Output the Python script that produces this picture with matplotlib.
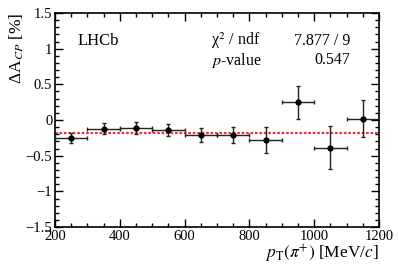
import numpy as np
import matplotlib
matplotlib.use("Agg")
import matplotlib.pyplot as plt
from matplotlib.ticker import MultipleLocator

plt.rcParams['font.family'] = ['Liberation Serif', 'DejaVu Serif']
plt.rcParams['mathtext.fontset'] = 'stix'

# data
pt_centres = [250, 350, 450, 550, 650, 750, 850, 950, 1050, 1150]
pt_halfwidth = [50, 50, 50, 50, 50, 50, 50, 50, 50, 50]
dacp = [-0.25, -0.12, -0.11, -0.14, -0.21, -0.21, -0.28, 0.25, -0.39, 0.02]
dacp_err = [0.07, 0.08, 0.08, 0.09, 0.10, 0.11, 0.18, 0.23, 0.30, 0.26]
fit_value = -0.18
chi2_text = "7.877 / 9"
pvalue_text = "0.547"

fig = plt.figure(figsize=(3.99, 2.70), dpi=100)
ax = fig.add_axes([0.138, 0.159, 0.812, 0.793])

ax.axhline(fit_value, color='#e8373c', lw=1.6, ls=(0, (1.2, 0.8)), zorder=1)
ax.errorbar(pt_centres, dacp, xerr=pt_halfwidth, yerr=dacp_err, fmt='o',
            color='black', ecolor='#222222', ms=3.5, elinewidth=1.0,
            capsize=1.5, capthick=1.0, zorder=3)

ax.set_xlim(200, 1200)
ax.set_ylim(-1.5, 1.5)
ax.xaxis.set_major_locator(MultipleLocator(200))
ax.xaxis.set_minor_locator(MultipleLocator(50))
ax.yaxis.set_major_locator(MultipleLocator(0.5))
ax.yaxis.set_minor_locator(MultipleLocator(0.1))
ax.tick_params(which='both', direction='in', top=True, right=True,
               labelsize=10.5, width=1.0, pad=2)
ax.tick_params(which='major', length=6)
ax.tick_params(which='minor', length=3)
ax.set_yticks([-1.5, -1, -0.5, 0, 0.5, 1, 1.5])
ax.set_yticklabels(['\u22121.5', '\u22121', '\u22120.5', '0', '0.5', '1', '1.5'])
for s in ax.spines.values():
    s.set_linewidth(1.2)

ax.set_xlabel(r'$p_{\mathrm{T}}(\pi^{+})$ [MeV/$c$]', fontsize=12.5, loc='right', labelpad=0)
ax.set_ylabel('\u0394A$_{CP}$ [%]', fontsize=12.5, loc='top', labelpad=0)

ax.text(0.07, 0.87, 'LHCb', transform=ax.transAxes, fontsize=12, va='center')
ax.text(0.48, 0.87, '\u03c7$^2$ / ndf', transform=ax.transAxes, fontsize=11.5, va='center')
ax.text(0.91, 0.87, chi2_text, transform=ax.transAxes, fontsize=11.5, va='center', ha='right')
ax.text(0.48, 0.78, r'$p$-value', transform=ax.transAxes, fontsize=11.5, va='center')
ax.text(0.91, 0.78, pvalue_text, transform=ax.transAxes, fontsize=11.5, va='center', ha='right')

fig.savefig('out.png', dpi=100)
